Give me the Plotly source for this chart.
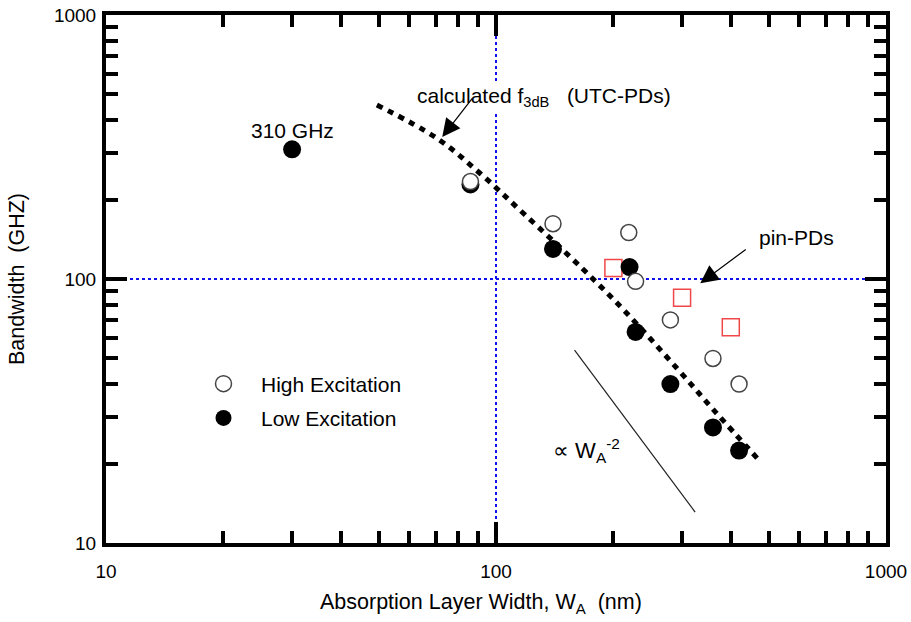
import numpy as np
import plotly.graph_objects as go

# ---- data ----
high_x = [86, 140, 219, 228, 280, 360, 420]
high_y = [234, 162, 150, 98, 70, 50, 40]

low_x = [30, 86, 140, 220, 228, 280, 360, 420]
low_y = [310, 228, 130, 111, 63, 40, 27.4, 22.4]

pin_x = [200, 300, 400]
pin_y = [110, 85, 65.6]

calc_x = [49.5, 70.6, 91.1, 117.7, 166, 214.6, 291, 365, 471]
calc_y = [456, 341, 251, 177, 110, 75.2, 45.9, 31.4, 20.7]

slope_x = [159, 324]
slope_y = [53.8, 13.1]

ref_v_x = [100, 100]
ref_v_y = [10, 1000]
ref_h_x = [10, 1000]
ref_h_y = [100, 100]

FONT = "Liberation Sans, Arial, sans-serif"

fig = go.Figure()

# reference dotted blue lines
fig.add_trace(go.Scatter(x=ref_v_x, y=ref_v_y, mode="lines", showlegend=False,
                         line=dict(color="#1010ee", width=2, dash="3px,3px"), hoverinfo="skip"))
fig.add_trace(go.Scatter(x=ref_h_x, y=ref_h_y, mode="lines", showlegend=False,
                         line=dict(color="#1010ee", width=2, dash="3px,3px"), hoverinfo="skip"))

# calculated f3dB curve
fig.add_trace(go.Scatter(x=calc_x, y=calc_y, mode="lines", showlegend=False,
                         line=dict(color="black", width=5, dash="6px,6px", shape="spline", smoothing=1)))

# W^-2 slope guide
fig.add_trace(go.Scatter(x=slope_x, y=slope_y, mode="lines", showlegend=False,
                         line=dict(color="#222", width=1.2)))

# pin-PDs
fig.add_trace(go.Scatter(x=pin_x, y=pin_y, mode="markers", showlegend=False,
                         marker=dict(symbol="square-open", size=17, color="#f04848",
                                     line=dict(width=1.5, color="#f04848"))))

# Low excitation (filled)
fig.add_trace(go.Scatter(x=low_x, y=low_y, mode="markers", name="\u00a0\u00a0\u00a0Low Excitation",
                         legendgroup="low", legendrank=2,
                         marker=dict(symbol="circle", size=18, color="black",
                                     line=dict(width=0, color="black"))))

# High excitation (open)
fig.add_trace(go.Scatter(x=high_x, y=high_y, mode="markers", name="\u00a0\u00a0\u00a0High Excitation",
                         legendgroup="high", legendrank=1,
                         marker=dict(symbol="circle", size=16, color="white",
                                     line=dict(width=1.5, color="#444"))))

annots = [
    dict(x=np.log10(62.1), y=np.log10(490), xanchor="left", yanchor="middle",
         text="calculated f<sub>3dB</sub>\u00a0\u00a0\u00a0(UTC-PDs)", showarrow=False,
         bgcolor="white", font=dict(size=21)),
    dict(x=np.log10(30), y=np.log10(366), text="310 GHz", showarrow=False,
         xanchor="center", yanchor="middle", font=dict(size=21)),
    dict(x=np.log10(466), y=np.log10(143), text="pin-PDs", showarrow=False,
         xanchor="left", yanchor="middle", font=dict(size=21)),
    dict(x=np.log10(138), y=np.log10(22.5), text="\u221d W<sub>A</sub><sup>-2</sup>", showarrow=False,
         xanchor="left", yanchor="middle", font=dict(size=22)),
    # x-axis title (placed as paper annotation to match the reference's horizontal offset)
    dict(xref="paper", yref="paper", x=0.481, y=-0.114, xanchor="center", yanchor="middle",
         text="Absorption Layer Width, W<sub>A</sub>\u00a0\u00a0(nm)", showarrow=False,
         font=dict(size=21.5)),
    # arrows
    dict(x=np.log10(72.8), y=np.log10(345), text="", showarrow=True, ax=31, ay=-40,
         arrowhead=2, arrowsize=3, arrowwidth=1.2, arrowcolor="black", standoff=0),
    dict(x=np.log10(334), y=np.log10(96.3), text="", showarrow=True, ax=47, ay=-35,
         arrowhead=2, arrowsize=3, arrowwidth=1.2, arrowcolor="black", standoff=0),
]

axis_common = dict(
    type="log", range=[1, 3], showgrid=False, zeroline=False, automargin=False,
    showline=True, linewidth=4, linecolor="black", mirror="ticks",
    ticks="inside", ticklen=21, tickwidth=4, tickcolor="black",
    tickmode="linear", tick0=0, dtick=1, ticklabeloverflow="allow",
    tickfont=dict(size=19, color="black", family=FONT),
    minor=dict(ticks="inside", ticklen=12, tickwidth=4, tickcolor="black",
               dtick="D1", showgrid=False),
)

fig.update_layout(
    width=911, height=622,
    margin=dict(l=106, r=25, t=15, b=79),
    paper_bgcolor="white", plot_bgcolor="white",
    font=dict(family=FONT, color="black", size=18),
    xaxis=dict(**axis_common, ticklabelstandoff=8),
    yaxis=dict(**axis_common, ticklabelstandoff=2,
               title=dict(text="Bandwidth\u00a0\u00a0(GHZ)", font=dict(size=21.5), standoff=24)),
    legend=dict(x=0.125, y=0.34, xanchor="left", yanchor="top", traceorder="grouped",
                bgcolor="rgba(0,0,0,0)", font=dict(size=21), tracegroupgap=4),
    annotations=annots,
    showlegend=True,
)

fig.write_html("out.html", config={"displayModeBar": False},
               post_script="document.body.style.margin='0';")
